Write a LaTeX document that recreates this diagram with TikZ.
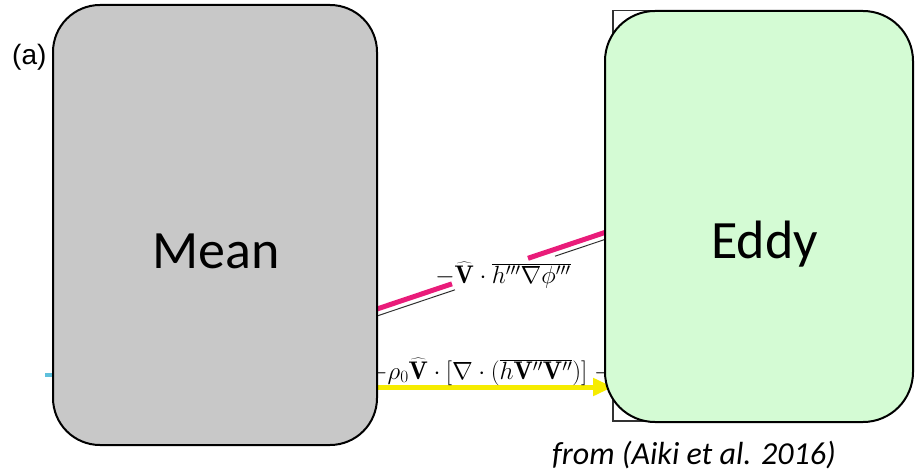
\documentclass[tikz,border=0pt]{standalone}
\usepackage{fontspec}
\usetikzlibrary{arrows.meta}
\newfontfamily\boxfont{Carlito}
\newfontfamily\tagfont{Liberation Sans}
\definecolor{meanfill}{RGB}{200,200,200}
\definecolor{eddyfill}{RGB}{212,251,212}
\definecolor{fluxpink}{RGB}{233,28,122}
\definecolor{fluxyellow}{RGB}{246,236,0}
\definecolor{fluxcyan}{RGB}{95,192,220}
\definecolor{thinrule}{RGB}{50,50,50}
\begin{document}
\begin{tikzpicture}[x=1pt,y=-1pt,
  energybox/.style={draw=black, line width=2pt, rounded corners=47pt, inner sep=0pt},
  meanbox/.style={energybox, fill=meanfill, minimum width=324pt, minimum height=440pt},
  eddybox/.style={energybox, fill=eddyfill, minimum width=308pt, minimum height=411pt, rounded corners=50pt},
  boxtext/.style={font=\boxfont\fontsize{54}{60}\selectfont, inner sep=0pt},
  tagtext/.style={font=\tagfont\fontsize{28}{32}\selectfont, inner sep=0pt},
  sourcetext/.style={font=\boxfont\itshape\fontsize{32}{38}\selectfont, inner sep=0pt},
  fluxlabel/.style={font=\fontsize{25.5}{30}\selectfont, inner sep=0pt, text=black},
  pinkflux/.style={draw=fluxpink, line width=5pt},
  shadowline/.style={draw=thinrule, line width=1pt},
  yellowflux/.style={draw=fluxyellow, line width=5pt,
    -{Triangle[length=20pt,width=17pt]}},
  cyanflux/.style={draw=fluxcyan, line width=4pt},
  panelframe/.style={draw=thinrule, line width=1.3pt, inner sep=0pt,
    minimum width=247pt, minimum height=410.5pt}
]
\useasboundingbox (0,0) rectangle (915,476);

% stub of a flux line entering the mean box from the left
\coordinate (cyanstart) at (45,374.5);
\coordinate (cyanend) at (90,374.5);
\draw[cyanflux] (cyanstart) -- (cyanend);

% frame of the panel behind the eddy box
\node[panelframe] (panel) at (736.5,215.75) {};

% eddy flux: pink line with a thin shadow line, broken by its label
\coordinate (pinkA) at (360,314.7);
\coordinate (pinkB) at (452,283.8);
\coordinate (pinkC) at (528,258.3);
\coordinate (pinkD) at (620,227.4);
\draw[pinkflux] (pinkA) -- (pinkB);
\draw[pinkflux] (pinkC) -- (pinkD);
\coordinate (shadowA) at (360,321.7);
\coordinate (shadowB) at (455,289.8);
\coordinate (shadowC) at (555,256.2);
\coordinate (shadowD) at (620,234.4);
\draw[shadowline] (shadowA) -- (shadowB);
\draw[shadowline] (shadowC) -- (shadowD);
\node[fluxlabel, anchor=base] (eddyflux) at (503,283)
  {$-\widehat{\mathbf V}\cdot\overline{h'''\nabla\phi'''}$};

% mean-to-eddy flux: yellow arrow
\coordinate (yellowA) at (360,387);
\coordinate (yellowB) at (613,387);
\draw[yellowflux] (yellowA) -- (yellowB);
\node[fluxlabel, anchor=base] (meanflux) at (487.5,379)
  {\llap{$-$}$\rho_0\widehat{\mathbf V}\cdot[\nabla\cdot(\overline{h\mathbf V''\mathbf V''})]$\rlap{$\;-$}};

% the two energy reservoirs
\node[meanbox] (mean) at (215,225) {};
\node[eddybox] (eddy) at (759,216.5) {};
\node[boxtext, anchor=base] (meantext) at (216,268) {Mean};
\node[boxtext, anchor=base] (eddytext) at (764.5,258) {Eddy};

% panel tag and source
\node[tagtext, anchor=base west] (tag) at (12,65) {(a)};
\node[sourcetext, anchor=base west] (source) at (552,464) {from (Aiki et al. 2016)};
\end{tikzpicture}
\end{document}
